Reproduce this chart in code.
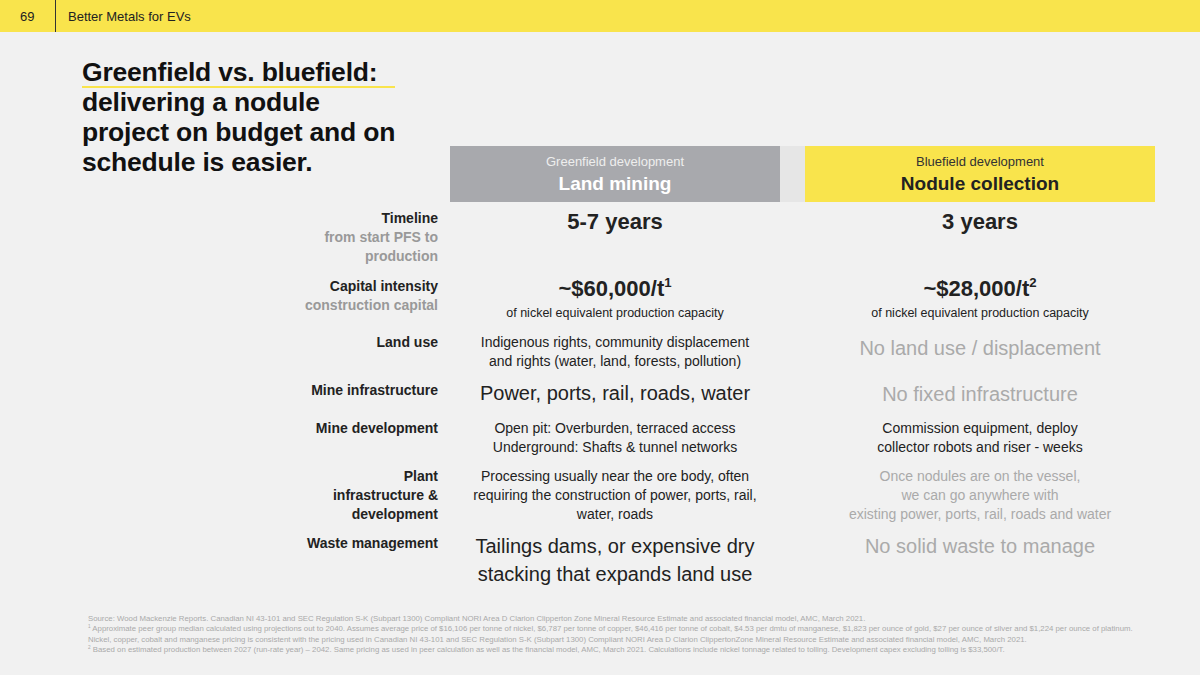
<!DOCTYPE html><html><head><meta charset="utf-8">
<script src="https://cdn.jsdelivr.net/npm/chart.js@4"></script>
<style>
body{margin:0;width:1200px;height:675px;background:#f1f1f1;font-family:Arial,"Liberation Sans",sans-serif;position:relative;overflow:hidden}
.a{position:absolute}
.lab{position:absolute;right:762px;text-align:right;font-size:14px;font-weight:bold;color:#222;line-height:19px}
.lab span{color:#999;display:block;font-size:14px}
.c{position:absolute;text-align:center;color:#222}
.g{left:450px;width:330px}.b{left:805px;width:350px}
sup{font-size:0.6em;line-height:0;vertical-align:0.7em}
</style></head><body>
<div class="a" style="left:0;top:0;width:1200px;height:32px;background:#f9e44c"></div>
<div class="a" style="left:55px;top:0;width:1px;height:32px;background:#333"></div>
<div class="a" style="left:20px;top:9px;font-size:13px;color:#222">69</div>
<div class="a" style="left:68px;top:9px;font-size:13px;color:#222">Better Metals for EVs</div>
<div class="a" style="left:82px;top:57px;font-size:26.5px;font-weight:bold;line-height:30px;color:#111;width:380px;letter-spacing:-0.2px">Greenfield vs. bluefield:<br>delivering a nodule<br>project on budget and on<br>schedule is easier.</div>
<div class="a" style="left:82px;top:86px;width:313px;height:2px;background:#f9e44c"></div>
<div class="a" style="left:450px;top:146px;width:330px;height:56px;background:#a8a9ad"></div>
<div class="a" style="left:780px;top:146px;width:25px;height:56px;background:#e6e6e6"></div>
<div class="a" style="left:805px;top:146px;width:350px;height:56px;background:#f9e44c"></div>
<div id="root"></div>
<div class="a" style="left:88px;top:614px;width:1050px;font-size:7.8px;line-height:10.3px;color:#aaa" id="foot"></div>
<script>
const rowLabels=["Timeline","Capital intensity","Land use","Mine infrastructure","Mine development","Plant infrastructure & development","Waste management"];
const rowSubs=["from start PFS to production","construction capital","","","","",""];
const headers={g:["Greenfield development","Land mining"],b:["Bluefield development","Nodule collection"]};
const greenfield=["5-7 years","~$60,000/t<sup>1</sup>","Indigenous rights, community displacement<br>and rights (water, land, forests, pollution)","Power, ports, rail, roads, water","Open pit: Overburden, terraced access<br>Underground: Shafts &amp; tunnel networks","Processing usually near the ore body, often<br>requiring the construction of power, ports, rail,<br>water, roads","Tailings dams, or expensive dry<br>stacking that expands land use"];
const bluefield=["3 years","~$28,000/t<sup>2</sup>","No land use / displacement","No fixed infrastructure","Commission equipment, deploy<br>collector robots and riser - weeks","Once nodules are on the vessel,<br>we can go anywhere with<br>existing power, ports, rail, roads and water","No solid waste to manage"];
const footnotes=["Source: Wood Mackenzie Reports. Canadian NI 43-101 and SEC Regulation S-K (Subpart 1300) Compliant NORI Area D Clarion Clipperton Zone Mineral Resource Estimate and associated financial model, AMC, March 2021.","<sup>1</sup> Approximate peer group median calculated using projections out to 2040. Assumes average price of $16,106 per tonne of nickel, $6,787 per tonne of copper, $46,416 per tonne of cobalt, $4.53 per dmtu of manganese, $1,823 per ounce of gold, $27 per ounce of silver and $1,224 per ounce of platinum. Nickel, copper, cobalt and manganese pricing is consistent with the pricing used in Canadian NI 43-101 and SEC Regulation S-K (Subpart 1300) Compliant NORI Area D Clarion ClippertonZone Mineral Resource Estimate and associated financial model, AMC, March 2021.","<sup>2</sup> Based on estimated production between 2027 (run-rate year) – 2042. Same pricing as used in peer calculation as well as the financial model, AMC, March 2021.  Calculations include nickel tonnage related to tolling. Development capex excluding tolling is $33,500/T."];
const tops=[209,277,333,381,419,467,534];
const vtops=[[208,208],[275,275],[333,334],[379,380],[419,419],[467,467],[532,532]];
const gStyle=[["22px",1,"#222"],["22px",1,"#222"],["14px",0,"#222"],["20px",0,"#222"],["14px",0,"#222"],["14px",0,"#222"],["20px",0,"#222"]];
const bStyle=[["22px",1,"#222"],["22px",1,"#222"],["20px",0,"#aaa"],["20px",0,"#aaa"],["14px",0,"#222"],["14px",0,"#aaa"],["20px",0,"#aaa"]];
let h='';
h+=`<div class="c g" style="top:154px;font-size:13px;color:#eee">${headers.g[0]}</div><div class="c g" style="top:173px;font-size:19px;font-weight:bold;color:#fff">${headers.g[1]}</div>`;
h+=`<div class="c b" style="top:154px;font-size:13px;color:#333">${headers.b[0]}</div><div class="c b" style="top:173px;font-size:19px;font-weight:bold;color:#222">${headers.b[1]}</div>`;
rowLabels.forEach((l,i)=>{
 const lbl=i==5?"Plant<br>infrastructure &amp;<br>development":l;
 h+=`<div class="lab" style="top:${tops[i]}px;width:160px">${lbl}${rowSubs[i]?`<span>${i==0?"from start PFS to<br>production":rowSubs[i]}</span>`:''}</div>`;
 const cell=(cls,txt,st,t)=>`<div class="c ${cls}" style="top:${t}px;font-size:${st[0]};font-weight:${st[1]?'bold':'normal'};color:${st[2]};line-height:${parseInt(st[0])>16?'28px':'19px'}">${txt}${i==1?'<div style="font-size:12.5px;font-weight:normal;margin-top:2px;line-height:16px">of nickel equivalent production capacity</div>':''}</div>`;
 h+=cell('g',greenfield[i],gStyle[i],vtops[i][0]);
 h+=cell('b',bluefield[i],bStyle[i],vtops[i][1]);
});
document.getElementById('root').innerHTML=h;
document.getElementById('foot').innerHTML=footnotes.join('<br>');
</script></body></html>
